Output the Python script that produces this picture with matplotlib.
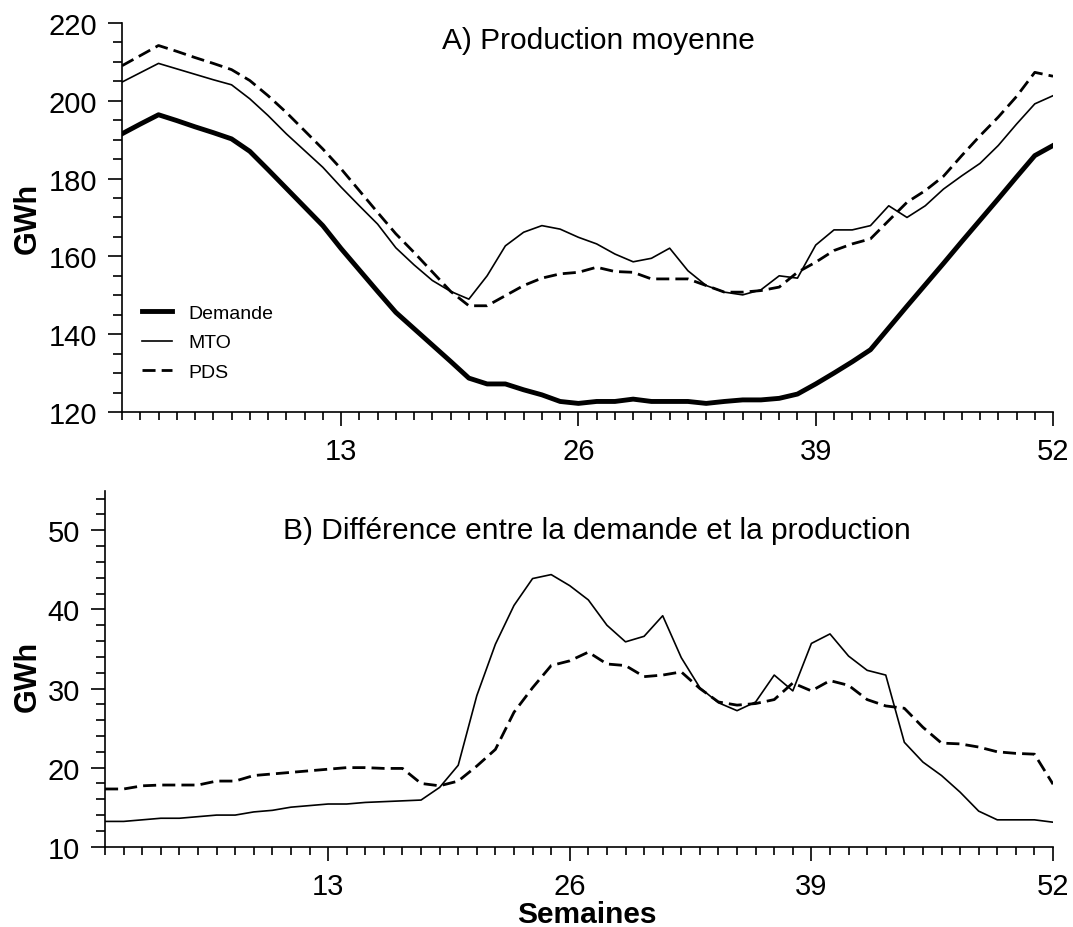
#!/usr/bin/env python3
from __future__ import annotations

import numpy as np

import matplotlib
matplotlib.use("Agg")
import matplotlib.pyplot as plt
from matplotlib.ticker import FixedLocator, MultipleLocator

plt.rcParams["font.family"] = ["Liberation Sans", "DejaVu Sans"]

WEEKS = np.arange(1, 53)

# weekly mean production (GWh)
DEMANDE = [
    191.5, 194.0, 196.4, 194.9, 193.3, 191.8, 190.2, 187.0, 182.3, 177.5,
    172.7, 167.9, 162.0, 156.5, 151.0, 145.6, 141.4, 137.2, 133.0, 128.7,
    127.2, 127.2, 125.7, 124.4, 122.7, 122.2, 122.7, 122.7, 123.3, 122.7,
    122.7, 122.7, 122.2, 122.7, 123.1, 123.1, 123.5, 124.6, 127.2, 130.0,
    132.9, 136.0, 141.6, 147.2, 152.7, 158.2, 163.8, 169.3, 174.8, 180.4,
    185.9, 188.5,
]
MTO = [
    204.8, 207.2, 209.6, 208.2, 206.8, 205.4, 204.1, 200.5, 196.2, 191.5,
    187.2, 182.9, 177.8, 173.0, 168.3, 162.2, 157.8, 153.8, 151.0, 149.0,
    155.0, 162.7, 166.2, 167.9, 167.0, 164.9, 163.2, 160.6, 158.6, 159.5,
    162.1, 156.3, 152.5, 150.8, 150.1, 151.4, 155.0, 154.4, 162.9, 166.8,
    166.8, 167.9, 173.0, 170.0, 173.0, 177.3, 180.7, 183.9, 188.5, 194.0,
    199.2, 201.3,
]
PDS = [
    209.0, 211.6, 214.2, 212.7, 211.1, 209.6, 208.0, 205.2, 201.3, 197.0,
    192.3, 187.6, 182.5, 176.9, 171.3, 165.8, 161.0, 156.0, 151.0, 147.3,
    147.3, 149.9, 152.5, 154.4, 155.5, 155.9, 157.2, 156.1, 155.9, 154.2,
    154.2, 154.2, 152.5, 150.8, 150.8, 151.2, 152.1, 155.9, 158.5, 161.5,
    163.2, 164.5, 169.2, 173.9, 176.9, 180.6, 185.9, 191.0, 195.8, 201.1,
    207.3, 206.3,
]

# production minus demand (GWh)
DIFF_MTO = [
    13.2, 13.2, 13.4, 13.6, 13.6, 13.8, 14.0, 14.0, 14.4, 14.6,
    15.0, 15.2, 15.4, 15.4, 15.6, 15.7, 15.8, 15.9, 17.5, 20.3,
    29.1, 35.6, 40.5, 43.9, 44.4, 43.0, 41.2, 38.0, 35.9, 36.6,
    39.2, 33.9, 30.1, 28.2, 27.2, 28.3, 31.7, 29.7, 35.7, 36.9,
    34.1, 32.3, 31.7, 23.2, 20.7, 19.0, 16.9, 14.5, 13.4, 13.4,
    13.4, 13.1,
]
DIFF_PDS = [
    17.3, 17.3, 17.7, 17.8, 17.8, 17.8, 18.3, 18.3, 19.0, 19.2,
    19.4, 19.6, 19.8, 20.0, 20.0, 19.9, 19.9, 18.0, 17.7, 18.3,
    20.2, 22.3, 27.0, 30.1, 32.9, 33.5, 34.6, 33.1, 32.9, 31.5,
    31.7, 32.1, 30.0, 28.3, 27.9, 28.1, 28.6, 30.7, 29.7, 31.0,
    30.4, 28.6, 27.8, 27.5, 25.1, 23.1, 23.0, 22.6, 22.0, 21.8,
    21.7, 17.9,
]

DASH = (0, (4.7, 2.2))


def style_axes(ax, ylim, ymajor, yminor):
    ax.set_xlim(1, 52)
    ax.set_ylim(*ylim)
    ax.spines[["top", "right"]].set_visible(False)
    for side in ("left", "bottom"):
        ax.spines[side].set_linewidth(1.2)

    ax.xaxis.set_major_locator(FixedLocator([13, 26, 39, 52]))
    ax.xaxis.set_minor_locator(MultipleLocator(1))
    ax.yaxis.set_major_locator(MultipleLocator(ymajor))
    ax.yaxis.set_minor_locator(MultipleLocator(yminor))

    ax.tick_params(which="major", direction="out", length=10, width=1.2, labelsize=21, pad=8)
    ax.tick_params(axis="x", which="minor", direction="out", length=5.5, width=1.2)
    ax.tick_params(axis="y", which="minor", direction="out", length=6.5, width=1.2)

    ax.set_ylabel("GWh", fontsize=22, fontweight="bold")


def main():
    fig = plt.figure(figsize=(10.73, 9.28), dpi=100)

    top = fig.add_axes([0.1137, 0.5550, 0.8677, 0.4192])
    top.plot(WEEKS, DEMANDE, color="black", lw=3.5, label="Demande")
    top.plot(WEEKS, MTO, color="black", lw=1.2, label="MTO")
    top.plot(WEEKS, PDS, color="black", lw=2.0, ls=DASH, label="PDS")
    style_axes(top, (120, 220), 20, 5)
    top.yaxis.set_label_coords(-0.085, 0.5)
    top.text(0.5116, 0.935, "A) Production moyenne", transform=top.transAxes,
             ha="center", va="baseline", fontsize=21.5)
    top.legend(loc="upper left", bbox_to_anchor=(0.0212, 0.276), frameon=False,
               fontsize=14, borderpad=0, borderaxespad=0, handlelength=1.55,
               handletextpad=0.84, labelspacing=0.6)

    bottom = fig.add_axes([0.0979, 0.0865, 0.8835, 0.3836])
    bottom.plot(WEEKS, DIFF_MTO, color="black", lw=1.2)
    bottom.plot(WEEKS, DIFF_PDS, color="black", lw=2.0, ls=DASH)
    style_axes(bottom, (10, 55), 10, 2)
    bottom.yaxis.set_label_coords(-0.066, 0.48)
    bottom.set_xlabel("Semaines", fontsize=21.5, fontweight="bold")
    bottom.xaxis.set_label_coords(0.508, -0.15)
    bottom.text(0.5187, 0.866, "B) Différence entre la demande et la production",
                transform=bottom.transAxes, ha="center", va="baseline", fontsize=21.5)

    fig.savefig("out.png", dpi=100)
    plt.close(fig)


if __name__ == "__main__":
    main()
